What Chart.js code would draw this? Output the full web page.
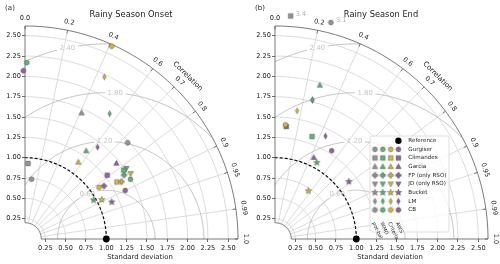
<!DOCTYPE html>
<html>
<head>
<meta charset="utf-8">
<script src="https://cdn.jsdelivr.net/npm/chart.js@4.4.0/dist/chart.umd.min.js"></script>
<style>
  html, body { margin: 0; padding: 0; background: #fff; }
  #wrap { position: relative; width: 500px; height: 264px; }
  #onset { position: absolute; left: 0; top: 0; }
  #end { position: absolute; left: 240px; top: 0; }
</style>
</head>
<body>
<div id="wrap">
  <canvas id="onset" width="250" height="264"></canvas>
  <canvas id="end" width="260" height="264"></canvas>
</div>
<script>
// methods (rows of the legend) and data variants (columns of the legend)
const methods = ['Gurgiser', 'Climandes', 'Garcia', 'FP (only RSO)', 'JD (only RSO)', 'Bucket', 'LM', 'CB'];
const variants = ['pot-bal', 'WMO', 'Criteria', 'AWS'];

const stdTicks = [0.25, 0.5, 0.75, 1.0, 1.25, 1.5, 1.75, 2.0, 2.25, 2.5];
const corrTicks = [0.0, 0.2, 0.4, 0.6, 0.7, 0.8, 0.9, 0.95, 0.99, 1.0];
const rmsLevels = [0.6, 1.2, 1.8, 2.4];
const refStd = 1.0;

// Rainy Season Onset, one value per method (null = not shown)
const onsetStdGray   = [0.74, 0.93, 1.70, null, null, null, null, 1.73];
const onsetCorrGray  = [0.11, 0.04, 0.41, null, null, null, null, 0.73];
const onsetStdGreen  = [1.49, 1.48, 1.32, 1.45, 1.52, 0.97, 1.86, 2.17];
const onsetCorrGreen = [0.87, 0.82, 0.57, 0.84, 0.82, 0.87, 0.56, 0.01];
const onsetStdYellow  = [1.11, 1.33, 1.15, 1.38, 1.53, 1.06, 2.22, 2.60];
const onsetCorrYellow = [0.82, 0.85, 0.57, 0.86, 0.85, 0.89, 0.44, 0.41];
const onsetStdPurple  = [1.37, 1.28, 1.46, 1.17, null, 1.16, 1.44, 2.07];
const onsetCorrPurple = [0.90, 0.79, 0.77, 0.83, null, 0.92, 0.62, -0.01];

// Rainy Season End
const endStdGray   = [3.1, 3.4, null, null, null, null, 1.77, null];
const endCorrGray  = [0.25, 0.07, null, null, null, null, 0.26, null];
const endStdGreen  = [1.78, 1.34, 1.97, null, null, 1.07, 1.77, null];
const endCorrGreen = [-0.08, 0.34, 0.28, null, null, 0.48, 0.26, null];
const endStdYellow  = [1.41, 1.34, 1.49, null, null, 0.72, 1.60, null];
const endCorrYellow = [0.09, -0.11, -0.20, null, null, 0.57, 0.17, null];
const endStdPurple  = [1.29, 1.39, 1.11, null, null, 1.15, 1.41, null];
const endCorrPurple = [0.54, 0.10, 0.43, null, null, 0.79, 0.44, null];

// ---------------------------------------------------------------
const FONT = '"DejaVu Sans", sans-serif';
const colors = ['#939393', '#5bb27a', '#d2b840', '#8f62a3'];
const shapes = ['circle', 'square', 'tri', 'plus', 'tridown', 'star', 'thind', 'oct'];
const RMIN = 0.2, RMAX = 2.62, AXMAX = 2.706, CLIPR = 2.75;

function makeMarker(shape, fill) {
    const c = document.createElement('canvas');
    c.width = 9; c.height = 9;
    const g = c.getContext('2d');
    g.translate(4.5, 4.5);
    g.beginPath();
    const poly = (pts) => { pts.forEach((p, i) => i ? g.lineTo(p[0], p[1]) : g.moveTo(p[0], p[1])); g.closePath(); };
    if (shape === 'circle') g.arc(0, 0, 2.4, 0, Math.PI * 2);
    else if (shape === 'square') g.rect(-2.3, -2.3, 4.6, 4.6);
    else if (shape === 'tri') poly([[0, -2.9], [2.7, 1.9], [-2.7, 1.9]]);
    else if (shape === 'tridown') poly([[0, 2.9], [2.7, -1.9], [-2.7, -1.9]]);
    else if (shape === 'plus') poly([[-0.9, -2.7], [0.9, -2.7], [0.9, -0.9], [2.7, -0.9], [2.7, 0.9], [0.9, 0.9], [0.9, 2.7], [-0.9, 2.7], [-0.9, 0.9], [-2.7, 0.9], [-2.7, -0.9], [-0.9, -0.9]]);
    else if (shape === 'thind') poly([[0, -3.0], [1.7, 0], [0, 3.0], [-1.7, 0]]);
    else if (shape === 'oct') {
        const pts = [];
        for (let k = 0; k < 8; k++) { const a = Math.PI / 8 + k * Math.PI / 4; pts.push([2.6 * Math.cos(a), 2.6 * Math.sin(a)]); }
        poly(pts);
    } else if (shape === 'star') {
        const pts = [];
        for (let k = 0; k < 10; k++) { const a = -Math.PI / 2 + k * Math.PI / 5; const r = k % 2 ? 1.4 : 3.4; pts.push([r * Math.cos(a), r * Math.sin(a)]); }
        poly(pts);
    }
    g.fillStyle = fill; g.fill();
    g.lineWidth = 0.4; g.strokeStyle = '#333'; g.stroke();
    return c;
}
const markers = shapes.map(s => colors.map(col => makeMarker(s, col)));

function buildDatasets(stds, corrs) {
    const sets = methods.map((m, i) => {
        const pts = [], styles = [];
        for (let v = 0; v < 4; v++) {
            const s = stds[v][i], c = corrs[v][i];
            if (s === null) continue;
            const r = Math.min(s, CLIPR), th = Math.acos(c);
            pts.push({ x: r * Math.cos(th), y: r * Math.sin(th), s: s });
            styles.push(markers[i][v]);
        }
        return { label: m, data: pts, pointStyle: styles, pointRadius: 3, borderWidth: 0, clip: false };
    });
    sets.push({ label: 'Reference', data: [{ x: refStd, y: 0 }], pointStyle: 'circle', pointRadius: 3.4,
        backgroundColor: '#000', borderColor: '#000', borderWidth: 0, clip: false });
    return sets;
}

function txt(ctx, s, x, y, size, color, align, rot) {
    ctx.save();
    ctx.translate(x, y);
    ctx.rotate(rot || 0);
    ctx.font = size + 'px ' + FONT;
    ctx.fillStyle = color;
    ctx.textAlign = align || 'center';
    ctx.textBaseline = 'middle';
    ctx.fillText(s, 0, 0);
    ctx.restore();
}

const taylor = {
    id: 'taylor',
    beforeDatasetsDraw(chart, args, opts) {
        const ctx = chart.ctx, xs = chart.scales.x, ys = chart.scales.y;
        const P = (r, th) => [xs.getPixelForValue(r * Math.cos(th)), ys.getPixelForValue(r * Math.sin(th))];
        const arcPath = (cx, r, a0, a1, n) => {
            ctx.beginPath();
            for (let k = 0; k <= n; k++) {
                const a = a0 + (a1 - a0) * k / n;
                const px = xs.getPixelForValue(cx + r * Math.cos(a)), py = ys.getPixelForValue(r * Math.sin(a));
                k ? ctx.lineTo(px, py) : ctx.moveTo(px, py);
            }
        };
        ctx.save();
        // std arcs
        ctx.strokeStyle = '#d2d2d2'; ctx.lineWidth = 0.8;
        stdTicks.forEach(r => { arcPath(0, r, 0, Math.PI / 2, 80); ctx.stroke(); });
        // correlation radials
        corrTicks.forEach(c => {
            if (c <= 0 || c >= 1) return;
            const th = Math.acos(c), a = P(RMIN, th), b = P(RMAX, th);
            ctx.beginPath(); ctx.moveTo(a[0], a[1]); ctx.lineTo(b[0], b[1]); ctx.stroke();
        });
        // centred RMS contours, with label gaps
        const labAng = [113, 91, 86.5, 101.5];
        const labs = rmsLevels.map((R, k) => {
            const a = labAng[k] * Math.PI / 180;
            return { R: R, x: xs.getPixelForValue(refStd + R * Math.cos(a)), y: ys.getPixelForValue(R * Math.sin(a)), t: R.toFixed(2) };
        });
        ctx.save();
        arcPath(0, RMAX, 0, Math.PI / 2, 120);
        const p0 = P(RMIN, Math.PI / 2);
        ctx.lineTo(p0[0], p0[1]);
        for (let k = 0; k <= 30; k++) { const p = P(RMIN, Math.PI / 2 * (1 - k / 30)); ctx.lineTo(p[0], p[1]); }
        ctx.closePath();
        ctx.clip();
        ctx.beginPath();
        ctx.rect(0, 0, chart.width, chart.height);
        ctx.font = '7px ' + FONT;
        labs.forEach(l => { const w = ctx.measureText(l.t).width + 5; ctx.rect(l.x - w / 2, l.y - 4.5, w, 9); });
        ctx.clip('evenodd');
        ctx.strokeStyle = '#bdbdbd'; ctx.lineWidth = 0.9;
        rmsLevels.forEach(R => { arcPath(refStd, R, 0, Math.PI, 160); ctx.stroke(); });
        ctx.restore();
        labs.forEach(l => txt(ctx, l.t, l.x, l.y, 7, '#c4c4c4'));
        // reference std arc
        ctx.setLineDash([3, 2]); ctx.strokeStyle = '#111'; ctx.lineWidth = 1.2;
        arcPath(0, refStd, 0, Math.PI / 2, 60); ctx.stroke();
        ctx.setLineDash([]);
        // frame
        ctx.strokeStyle = '#555'; ctx.lineWidth = 0.8;
        arcPath(0, RMAX, 0, Math.PI / 2, 120); ctx.stroke();
        arcPath(0, RMIN, 0, Math.PI / 2, 30); ctx.stroke();
        [0, Math.PI / 2].forEach(th => {
            const a = P(RMIN, th), b = P(RMAX, th);
            ctx.beginPath(); ctx.moveTo(a[0], a[1]); ctx.lineTo(b[0], b[1]); ctx.stroke();
        });
        // correlation ticks and labels
        corrTicks.forEach(c => {
            const th = Math.acos(c), a = P(RMAX, th), b = P(RMAX - 0.04, th);
            ctx.beginPath(); ctx.moveTo(a[0], a[1]); ctx.lineTo(b[0], b[1]); ctx.stroke();
            const q = P(2.72, th);
            const s = c === 0 ? '0.0' : c === 1 ? '1.0' : String(c);
            txt(ctx, s, q[0], q[1], 6.6, '#222', 'center', Math.PI / 2 - th);
        });
        const qc = P(2.83, Math.PI / 4);
        txt(ctx, 'Correlation', qc[0], qc[1], 7, '#222', 'center', Math.PI / 4);
        ctx.restore();
    },
    afterDatasetsDraw(chart, args, opts) {
        const ctx = chart.ctx, ox = chart.chartArea.left;
        txt(ctx, opts.title, ox + 106, 15, 8.3, '#222');
        txt(ctx, opts.tag, ox - 15, 8, 7, '#222');
        txt(ctx, 'Standard deviation', ox + 115, 257, 6.9, '#222');
        // values of points beyond the plotted range
        chart.data.datasets.forEach((ds, di) => {
            const meta = chart.getDatasetMeta(di);
            ds.data.forEach((d, j) => {
                if (d.s && d.s > RMAX) {
                    const el = meta.data[j];
                    txt(ctx, d.s.toFixed(1), el.x + 5, el.y - 2, 6.6, '#b0b0b0', 'left');
                }
            });
        });
        if (!opts.legend) return;
        // legend
        const lx = ox + 95, ly = 136, lw = 79, lh = 96;
        ctx.save();
        ctx.beginPath();
        ctx.roundRect(lx, ly, lw, lh, 2);
        ctx.fillStyle = 'rgba(255,255,255,0.8)'; ctx.fill();
        ctx.strokeStyle = '#d6d6d6'; ctx.lineWidth = 0.8; ctx.stroke();
        const cols = [ox + 100, ox + 107.8, ox + 115.7, ox + 123.4];
        const row0 = 140.7, dy = 8.65;
        ctx.beginPath(); ctx.arc(cols[3], row0, 3.2, 0, Math.PI * 2); ctx.fillStyle = '#000'; ctx.fill();
        txt(ctx, 'Reference', ox + 133.3, row0, 5.6, '#222', 'left');
        methods.forEach((m, i) => {
            const y = row0 + dy * (i + 1);
            cols.forEach((x, v) => { const im = markers[i][v]; ctx.drawImage(im, x - im.width / 2, y - im.height / 2); });
            txt(ctx, m, ox + 133.3, y, 5.6, '#222', 'left');
        });
        variants.forEach((s, v) => {
            ctx.save();
            ctx.translate(cols[v] - 1.5, row0 + dy * 9 + 4);
            ctx.rotate(Math.PI * 0.36);
            ctx.font = '5px ' + FONT; ctx.fillStyle = '#222';
            ctx.textAlign = 'left'; ctx.textBaseline = 'middle';
            ctx.fillText(s, 0, 0);
            ctx.restore();
        });
        ctx.restore();
    }
};

function axis(pos) {
    return {
        type: 'linear', position: pos, min: 0, max: AXMAX,
        afterBuildTicks: s => { s.ticks = stdTicks.map(v => ({ value: v })); },
        afterFit: s => { if (pos === 'bottom') s.height = 25; else s.width = 25; },
        ticks: { font: { family: FONT, size: 6.6 }, color: '#222', padding: pos === 'bottom' ? 2 : 1,
            autoSkip: false, maxRotation: 0, callback: v => v.toFixed(2) },
        grid: { drawOnChartArea: false, drawTicks: true, tickLength: 3, color: '#444', lineWidth: 0.8 },
        border: { display: false }
    };
}

function makeChart(id, datasets, padLeft, title, tag, legend) {
    return new Chart(document.getElementById(id), {
        type: 'scatter',
        data: { datasets: datasets },
        options: {
            responsive: false, animation: false, events: [],
            layout: { padding: { top: 19, right: 5, left: padLeft, bottom: 0 } },
            plugins: { legend: { display: false }, tooltip: { enabled: false },
                taylor: { title: title, tag: tag, legend: legend } },
            scales: { x: axis('bottom'), y: axis('left') }
        },
        plugins: [taylor]
    });
}

makeChart('onset', buildDatasets(
    [onsetStdGray, onsetStdGreen, onsetStdYellow, onsetStdPurple],
    [onsetCorrGray, onsetCorrGreen, onsetCorrYellow, onsetCorrPurple]), 0, 'Rainy Season Onset', '(a)', false);
makeChart('end', buildDatasets(
    [endStdGray, endStdGreen, endStdYellow, endStdPurple],
    [endCorrGray, endCorrGreen, endCorrYellow, endCorrPurple]), 10, 'Rainy Season End', '(b)', true);
</script>
</body>
</html>
